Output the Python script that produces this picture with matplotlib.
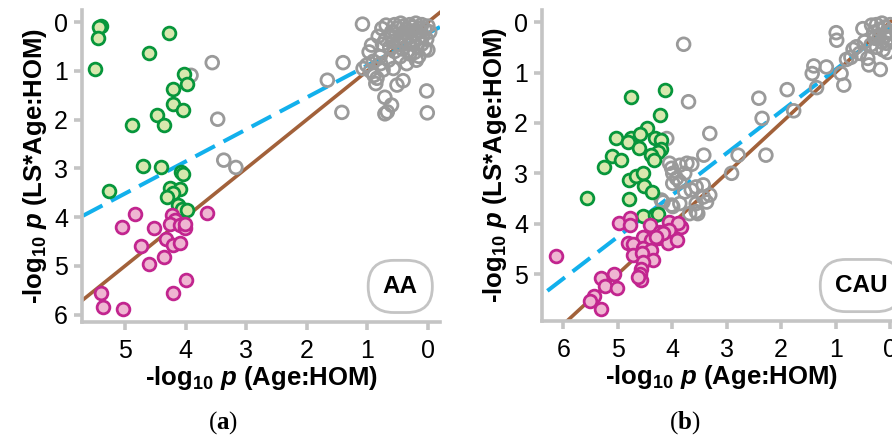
import numpy as np
import matplotlib.pyplot as plt

plt.rcParams['font.family'] = ['Liberation Sans', 'DejaVu Sans']
plt.rcParams['mathtext.fontset'] = 'custom'
plt.rcParams['mathtext.rm'] = 'Liberation Sans:bold'
plt.rcParams['mathtext.it'] = 'Liberation Sans:bold:italic'
plt.rcParams['mathtext.bf'] = 'Liberation Serif:bold'

# ── DATA ───────────────────────────────────────────────────────────────────
# panel (a) AA : x = -log10 p (Age:HOM), y = -log10 p (LS*Age:HOM)
aa_green_x = [5.40, 5.43, 5.44, 4.27, 4.60, 5.50, 4.02, 3.97, 4.20, 4.21, 4.05, 4.48, 4.88, 4.35,
              4.70, 4.40, 4.07, 4.05, 5.27, 4.25, 4.09, 4.21, 4.31, 4.13, 4.06, 3.98]
aa_green_y = [0.07, 0.10, 0.33, 0.22, 0.64, 0.97, 1.07, 1.26, 1.38, 1.68, 1.80, 1.90, 2.11, 2.11,
              2.94, 2.98, 3.07, 3.12, 3.47, 3.41, 3.43, 3.50, 3.58, 3.75, 3.84, 3.85]
aa_pink_x = [4.84, 5.05, 4.52, 3.64, 4.23, 4.17, 4.26, 4.09, 4.01, 4.01, 4.33, 4.73, 4.20, 4.09,
             4.36, 4.61, 3.99, 5.40, 4.20, 5.37, 5.03]
aa_pink_y = [3.94, 4.21, 4.22, 3.91, 3.95, 4.06, 4.13, 4.16, 4.23, 4.13, 4.45, 4.59, 4.57, 4.53,
             4.82, 4.97, 5.29, 5.55, 5.56, 5.85, 5.89]
aa_gray_x = [3.91, 3.56, 3.47, 3.37, 3.17, 1.08, 1.40, 1.66, 1.42, 0.02, 0.01, 0.71, 0.60, 0.67,
             0.71, 0.41, 0.51, 0.86, 0.84, 0.89, 1.07, 1.01, 0.97, 0.93, 0.82, 0.76, 0.69, 0.19,
             0.00, 0.35, 0.57, 0.74, 0.79, 0.65, 0.46, 0.63,
             0.55, 0.50, 0.45, 0.40, 0.35, 0.30, 0.25, 0.20, 0.15, 0.10, 0.05, 0.00, -0.03,
             0.52, 0.45, 0.38, 0.30, 0.22, 0.15, 0.08, 0.02, 0.58, 0.48, 0.40, 0.32, 0.25,
             0.18, 0.10, 0.05, 0.60, 0.12, 0.28, 0.42, 0.55, 0.22, 0.70, 0.75, 0.90, 0.95,
             0.78, 0.30, 0.15]
aa_gray_y = [1.09, 0.83, 1.99, 2.83, 2.98, 0.04, 0.83, 1.19, 1.85, 1.41, 1.86, 1.54, 1.70, 1.84,
             1.88, 1.20, 1.29, 1.26, 1.15, 1.09, 0.95, 0.88, 0.61, 0.47, 0.29, 0.13, 0.06, 0.78,
             0.57, 0.85, 0.95, 0.98, 0.71, 0.78, 0.71, 0.51,
             0.05, 0.12, 0.02, 0.08, 0.15, 0.05, 0.10, 0.02, 0.12, 0.05, 0.15, 0.08, 0.20,
             0.25, 0.30, 0.22, 0.30, 0.25, 0.32, 0.28, 0.35, 0.40, 0.45, 0.38, 0.45, 0.42,
             0.50, 0.45, 0.55, 0.20, 0.18, 0.18, 0.55, 0.60, 0.62, 0.35, 0.45, 0.80, 1.00,
             0.85, 0.65, 0.70]
aa_fit_intercept, aa_fit_slope = 0.23, 0.657

# panel (b) CAU
cau_green_x = [4.14, 4.76, 4.23, 4.46, 5.04, 4.76, 4.60, 4.82, 4.31, 4.61, 4.21, 4.21, 4.26, 4.38,
               4.33, 5.10, 4.94, 5.26, 4.80, 4.66, 4.54, 4.52, 4.37, 5.57, 4.80, 4.53, 4.32, 4.26]
cau_green_y = [1.34, 1.48, 1.85, 2.11, 2.29, 2.29, 2.22, 2.37, 2.29, 2.49, 2.34, 2.51, 2.57, 2.64,
               2.73, 2.65, 2.73, 2.88, 3.13, 3.05, 2.99, 3.25, 3.37, 3.48, 3.50, 3.85, 3.83, 3.80]
cau_pink_x = [6.14, 4.98, 4.78, 4.78, 4.41, 4.05, 3.83, 3.89, 4.05, 4.23, 4.26, 4.08, 4.54, 4.38,
              4.81, 4.72, 4.54, 4.38, 4.72, 4.55, 4.35, 4.54, 4.57, 4.60, 4.57, 5.06, 5.31, 5.24,
              5.02, 5.43, 5.51, 5.30, 3.92, 4.17, 4.29, 4.63]
cau_pink_y = [4.64, 3.99, 3.89, 4.03, 4.03, 3.96, 4.06, 3.99, 4.13, 4.16, 4.29, 4.39, 4.26, 4.33,
              4.39, 4.40, 4.49, 4.52, 4.62, 4.59, 4.72, 4.76, 4.89, 4.99, 5.11, 5.00, 5.07, 5.24,
              5.28, 5.44, 5.54, 5.70, 4.33, 4.19, 4.26, 5.05]
cau_gray_x = [3.79, 3.70, 4.10, 3.31, 3.42, 4.05, 4.01, 3.99, 3.92, 3.86, 3.73, 3.64, 3.77, 3.86,
              3.99, 3.43, 3.56, 3.65, 3.77, 3.43, 3.31, 3.37, 3.56, 3.86, 3.99, 3.56, 3.68, 4.20,
              4.17, 4.01, 3.53, 2.79, 2.91, 2.28, 2.41, 2.35, 1.89, 1.77, 1.35, 1.40, 1.43, 1.17,
              0.90, 0.85, 0.99, 0.98, 0.80, 0.68, 0.56, 0.39, 0.18, 0.13, 0.50, 0.34, 0.62, 0.47,
              0.28, 0.07, 0.41, 0.25, 0.20, 0.15, 0.10, 0.05, 0.00, 0.30, 0.20, 0.10, 0.02, 0.15,
              0.35, 0.25, 0.05, 0.72]
cau_gray_y = [0.44, 1.58, 2.31, 2.21, 2.64, 2.80, 2.90, 3.00, 3.10, 2.84, 2.80, 2.82, 3.00, 3.17,
              3.20, 3.23, 3.27, 3.33, 3.37, 3.47, 3.43, 3.57, 3.60, 3.60, 3.66, 3.76, 3.80, 3.53,
              3.57, 3.63, 3.80, 2.64, 3.00, 2.64, 1.51, 1.91, 1.34, 1.76, 1.30, 0.87, 1.02, 0.89,
              1.02, 1.25, 0.21, 0.36, 0.74, 0.54, 0.62, 0.85, 0.94, 0.55, 0.13, 0.06, 0.49, 0.39,
              0.32, 0.42, 0.72, 0.05, 0.15, 0.02, 0.10, 0.20, 0.05, 0.20, 0.30, 0.28, 0.32, 0.40,
              0.45, 0.50, 0.60, 0.70]
cau_fit_intercept, cau_fit_slope = 0.11, 0.83

# ── STYLE ──────────────────────────────────────────────────────────────────
green_edge, green_fill = '#07963b', '#d8e8ae'
pink_edge, pink_fill = '#c2258f', '#efb6d2'
gray_edge = '#9a9a9a'
brown, blue = '#a2613a', '#12b0ec'
spine_gray = '#c4c4c4'
ms, mlw = 84, 2.0

fig = plt.figure(figsize=(8.92, 4.38), dpi=100)
ax_a = fig.add_axes([82/892, 116/438, 358/892, 312/438])
ax_b = fig.add_axes([542/892, 117/438, 359/892, 311/438])

panels = [
    (ax_a, 'AA', (5.71, -0.2), (6.15, -0.25), range(0, 6), range(0, 7),
     aa_green_x, aa_green_y, aa_pink_x, aa_pink_y, aa_gray_x, aa_gray_y,
     aa_fit_intercept, aa_fit_slope),
    (ax_b, 'CAU', (6.39, -0.2), (5.93, -0.24), range(0, 7), range(0, 6),
     cau_green_x, cau_green_y, cau_pink_x, cau_pink_y, cau_gray_x, cau_gray_y,
     cau_fit_intercept, cau_fit_slope),
]

for (ax, name, xl, yl, xt, yt, gx, gy, px, py, rx, ry, b0, b1) in panels:
    ax.set_xlim(*xl)
    ax.set_ylim(*yl)
    # identity line and the fitted line
    ax.axline((0, 0), slope=1, color=brown, lw=2.6, zorder=1)
    ax.axline((0, b0), slope=b1, color=blue, lw=2.9, dashes=(5.5, 2.4), zorder=1)
    ax.scatter(rx, ry, s=ms, facecolors='none', edgecolors=gray_edge, linewidths=mlw, zorder=2)
    ax.scatter(gx, gy, s=ms, facecolors=green_fill, edgecolors=green_edge, linewidths=mlw, zorder=3)
    ax.scatter(px, py, s=ms, facecolors=pink_fill, edgecolors=pink_edge, linewidths=mlw, zorder=3)

    ax.set_xticks(list(xt))
    ax.set_yticks(list(yt))
    for s in ['top', 'right']:
        ax.spines[s].set_visible(False)
    for s in ['left', 'bottom']:
        ax.spines[s].set_color(spine_gray)
        ax.spines[s].set_linewidth(2.6)
    ax.tick_params(axis='both', colors=spine_gray, labelcolor='black', width=2.6,
                   length=6, labelsize=18, direction='out')
    ax.tick_params(axis='x', pad=6)
    ax.tick_params(axis='y', pad=4)
    ax.set_xlabel(r'-log$_{10}$ $\mathit{p}$ (Age:HOM)', fontsize=18.5, fontweight='bold', labelpad=1)
    ax.set_ylabel(r'-log$_{10}$ $\mathit{p}$ (LS*Age:HOM)', fontsize=18.5, fontweight='bold', labelpad=4)
    ax.text(0.889, 0.114, name, transform=ax.transAxes, ha='center', va='center',
            fontsize=17.5, fontweight='bold', zorder=5,
            bbox=dict(boxstyle='round,pad=0.6,rounding_size=1.05', fc='white',
                      ec=spine_gray, lw=2.0))

fig.text(223/892, 1 - 423/438, r'($\mathbf{a}$)', ha='center', va='center',
         fontsize=18, family='Liberation Serif')
fig.text(685/892, 1 - 423/438, r'($\mathbf{b}$)', ha='center', va='center',
         fontsize=18, family='Liberation Serif')

fig.savefig('out.png', dpi=100)
